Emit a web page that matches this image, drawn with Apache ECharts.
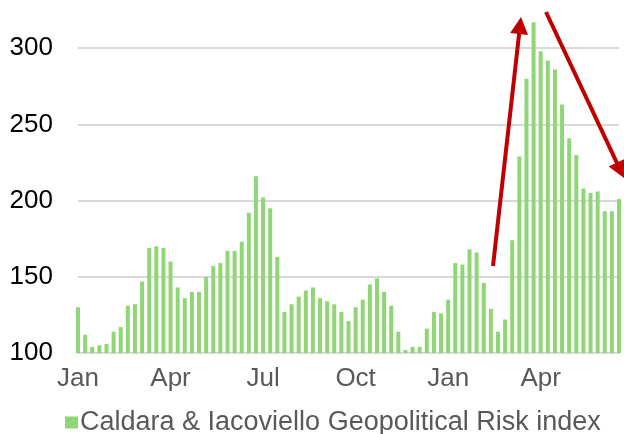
<!DOCTYPE html>
<html>
<head>
<meta charset="utf-8">
<script src="https://cdn.jsdelivr.net/npm/echarts@6/dist/echarts.min.js"></script>
<style>
  html, body { margin: 0; padding: 0; background: #fff; }
  #chart { width: 624px; height: 434px; }
</style>
</head>
<body>
<div id="chart"></div>
<script>
// weekly index values
var gprValues = [
  130, 112, 104, 105, 106, 114, 117, 131, 132, 147,
  169, 170, 169, 160, 143, 136, 140, 140, 150, 157,
  159, 167, 167, 173, 192, 216, 202, 195, 163, 127,
  132, 137, 141, 143, 136, 134, 132, 127, 121, 130,
  135, 145, 149, 140, 131, 114, 102, 104, 104, 116,
  127, 126, 135, 159, 158, 168, 166, 146, 129, 114,
  122, 174, 229, 280, 317, 298, 292, 286, 263, 241,
  230, 208, 205, 206, 193, 193, 201
];
// x labels and the week they sit on
var tickLabels = ['Jan', 'Apr', 'Jul', 'Oct', 'Jan', 'Apr'];
var tickWeeks = [0, 13, 26, 39, 52, 65];
var seriesName = 'Caldara & Iacoviello Geopolitical Risk index';

var weeks = [];
for (var i = 0; i < gprValues.length; i++) {
  weeks.push('W' + i);
}

// red annotation arrows (pixel positions, start -> tip)
var arrows = [
  [[493, 266], [521, 17]],
  [[546, 12], [624, 178]]
];

function arrowGraphics(a) {
  var s = a[0], t = a[1];
  var dx = t[0] - s[0], dy = t[1] - s[1];
  var len = Math.sqrt(dx * dx + dy * dy);
  var ux = dx / len, uy = dy / len;
  var headLen = 17, headW = 9;
  var bx = t[0] - ux * headLen, by = t[1] - uy * headLen;
  return [{
    type: 'line',
    shape: { x1: s[0], y1: s[1], x2: bx + ux * 2, y2: by + uy * 2 },
    style: { stroke: '#c00000', lineWidth: 4 },
    z: 100
  }, {
    type: 'polygon',
    shape: { points: [[t[0], t[1]], [bx - uy * headW, by + ux * headW], [bx + uy * headW, by - ux * headW]] },
    style: { fill: '#c00000' },
    z: 100
  }];
}

var graphics = [];
arrows.forEach(function (a) { graphics = graphics.concat(arrowGraphics(a)); });

var chart = echarts.init(document.getElementById('chart'));
chart.setOption({
  animation: false,
  textStyle: { fontFamily: 'Liberation Sans, Arial, sans-serif' },
  grid: { left: 78, right: 5, top: 1, bottom: 81 },
  legend: {
    data: [seriesName],
    left: 60,
    top: 404,
    icon: 'rect',
    itemWidth: 13,
    itemHeight: 12,
    textStyle: { fontSize: 27, color: '#595959', padding: [0, 0, 0, -3] }
  },
  xAxis: {
    type: 'category',
    data: weeks,
    boundaryGap: false,
    axisLine: { show: true, lineStyle: { color: '#d9d9d9', width: 2 } },
    axisTick: { show: false },
    axisLabel: {
      interval: 0,
      margin: 13,
      fontSize: 26,
      color: '#595959',
      formatter: function (v, idx) {
        var k = tickWeeks.indexOf(idx);
        return k >= 0 ? tickLabels[k] : '';
      }
    },
    splitLine: { show: false }
  },
  yAxis: {
    type: 'value',
    min: 100,
    max: 331,
    interval: 50,
    axisLine: { show: false },
    axisTick: { show: false },
    axisLabel: {
      margin: 25,
      fontSize: 26,
      color: '#000',
      showMaxLabel: false,
      formatter: function (v) { return v % 50 === 0 ? String(v) : ''; }
    },
    splitLine: { show: true, showMaxLine: false, lineStyle: { color: '#d9d9d9', width: 2 } }
  },
  series: [{
    name: seriesName,
    type: 'bar',
    data: gprValues,
    barWidth: 4,
    itemStyle: { color: '#8fd774' },
    clip: true
  }],
  graphic: graphics
});
</script>
</body>
</html>
